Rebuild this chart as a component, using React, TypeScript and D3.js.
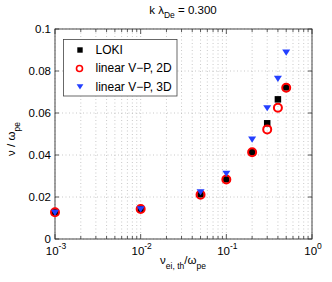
import React from "react";
import * as d3 from "d3";

const xVals = [0.001, 0.01, 0.05, 0.1, 0.2, 0.3, 0.4, 0.5];
const loki = [0.0127, 0.0143, 0.0213, 0.0284, 0.0413, 0.0551, 0.0665, 0.0722];
const vp2d = [0.0127, 0.0143, 0.0211, 0.0283, 0.0413, 0.0522, 0.0625, 0.0720];
const vp3d = [0.0127, 0.0143, 0.0225, 0.0313, 0.0476, 0.0625, 0.0765, 0.0890];
const yTicks = [0, 0.02, 0.04, 0.06, 0.08, 0.1];
const yTickLabels = ["0", "0.02", "0.04", "0.06", "0.08", "0.1"];
const xTicks = [0.001, 0.01, 0.1, 1];
const xTickExp = ["-3", "-2", "-1", "0"];
const legendLabels = ["LOKI", "linear V\u2212P, 2D", "linear V\u2212P, 3D"];

const W = 332, H = 282;
const L = 55, R = 312, T = 29, B = 239;
const font = "Liberation Sans, Arial, sans-serif";
const BLUE = "#2440ff";

export default function App() {
  const x = d3.scaleLog().domain([0.001, 1]).range([L, R]);
  const y = d3.scaleLinear().domain([0, 0.1]).range([B, T]);
  const minor: number[] = [];
  for (let e = -3; e < 0; e++) for (let m = 2; m <= 9; m++) minor.push(m * Math.pow(10, e));
  const allX = [...minor, ...xTicks];
  const tri = (cx: number, cy: number, hw = 4, up = 2.6, down = 3.6) =>
    `M${cx - hw},${cy - up}L${cx + hw},${cy - up}L${cx},${cy + down}Z`;
  return (
    <svg width={W} height={H} style={{ position: "absolute", left: 0, top: 0, background: "#fff" }} fontFamily={font}>
      <rect x={0} y={0} width={W} height={H} fill="#fff" />
      {/* grid */}
      {allX.map((v, i) => (
        <line key={"gx" + i} x1={x(v)} x2={x(v)} y1={T} y2={B} stroke="#bbb" strokeWidth={0.8} strokeDasharray="1,2.5" />
      ))}
      {yTicks.map((v, i) => (
        <line key={"gy" + i} x1={L} x2={R} y1={y(v)} y2={y(v)} stroke="#bbb" strokeWidth={0.8} strokeDasharray="1,2.5" />
      ))}
      {/* ticks */}
      {allX.map((v, i) => {
        const len = xTicks.includes(v) ? 5 : 3;
        return (
          <g key={"tx" + i} stroke="#333" strokeWidth={0.8}>
            <line x1={x(v)} x2={x(v)} y1={B} y2={B - len} />
            <line x1={x(v)} x2={x(v)} y1={T} y2={T + len} />
          </g>
        );
      })}
      {yTicks.map((v, i) => (
        <g key={"ty" + i} stroke="#333" strokeWidth={0.8}>
          <line x1={L} x2={L + 4} y1={y(v)} y2={y(v)} />
          <line x1={R} x2={R - 4} y1={y(v)} y2={y(v)} />
        </g>
      ))}
      <rect x={L} y={T} width={R - L} height={B - T} fill="none" stroke="#333" strokeWidth={0.9} />
      {/* tick labels */}
      {yTicks.map((v, i) => (
        <text key={"yl" + i} x={L - 4} y={y(v) + 4} textAnchor="end" fontSize={11.5} fill="#000">
          {yTickLabels[i]}
        </text>
      ))}
      {xTicks.map((v, i) => (
        <text key={"xl" + i} x={x(v) + 1} y={255} textAnchor="middle" fontSize={11.5} fill="#000">
          10<tspan dy={-6} fontSize={8.5}>{xTickExp[i]}</tspan>
        </text>
      ))}
      {/* data */}
      {xVals.map((v, i) => (
        <rect key={"lk" + i} x={x(v) - 3.25} y={y(loki[i]) - 3.25} width={6.5} height={6.5} fill="#000" />
      ))}
      {xVals.map((v, i) => (
        <circle key={"c2" + i} cx={x(v)} cy={y(vp2d[i])} r={4} fill="none" stroke="#ff0000" strokeWidth={2} />
      ))}
      {xVals.map((v, i) => (
        <path key={"t3" + i} d={tri(x(v), y(vp3d[i]))} fill={BLUE} />
      ))}
      {/* legend */}
      <rect x={63.5} y={39.5} width={113.5} height={56.5} fill="#fff" stroke="#444" strokeWidth={0.8} />
      <rect x={77.3} y={47.3} width={5.4} height={5.4} fill="#000" />
      <circle cx={79.5} cy={68.5} r={3} fill="none" stroke="#ff0000" strokeWidth={1.6} />
      <path d={tri(80, 86.5, 3.4, 2.2, 3)} fill={BLUE} />
      {legendLabels.map((t, i) => (
        <text key={"lg" + i} x={95.5} y={53.8 + i * 18.6} fontSize={12} fill="#000">{t}</text>
      ))}
      {/* title */}
      <text x={183} y={13.5} textAnchor="middle" fontSize={11.5} fill="#000">
        k λ<tspan dy={4.5} fontSize={8.5}>De</tspan><tspan dy={-4.5}> = 0.300</tspan>
      </text>
      {/* x label */}
      <text x={183} y={264} textAnchor="middle" fontSize={11.5} fill="#000">
        ν<tspan dy={5} fontSize={8.5}>ei, th</tspan><tspan dy={-5}>/ω</tspan><tspan dy={5} fontSize={8.5}>pe</tspan>
      </text>
      {/* y label */}
      <text transform={`translate(15,139) rotate(-90)`} textAnchor="middle" fontSize={11.5} fill="#000">
        ν / ω<tspan dy={5} fontSize={8.5}>pe</tspan>
      </text>
    </svg>
  );
}
